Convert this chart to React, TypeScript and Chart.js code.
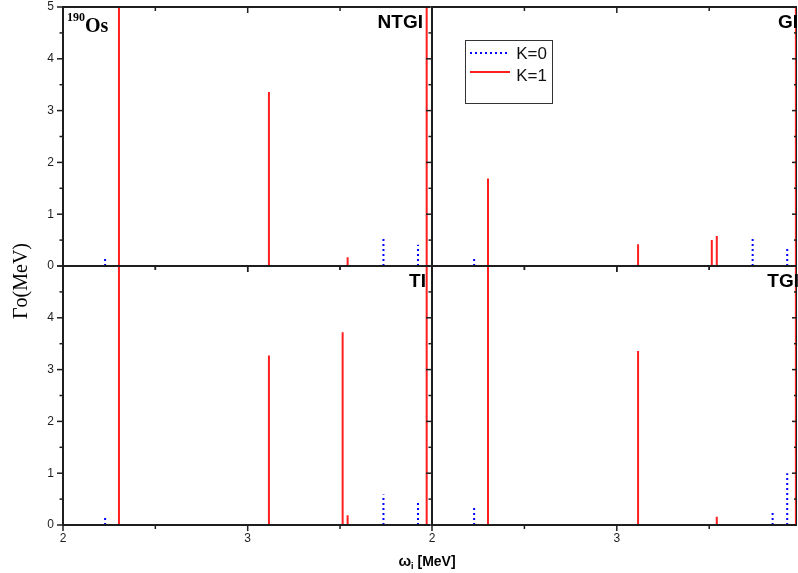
import React, { useEffect, useRef } from 'react';
import { Chart, registerables } from 'chart.js';

Chart.register(...registerables);

const W = 798;
const H = 573;

// ---- Data: excitation energies ω (MeV) and widths Γ0 (MeV) ----
// NTGI
const K0_OMEGA_NTGI = [2.228, 3.735, 3.922];
const K0_GAMMA_NTGI = [0.15, 0.55, 0.41];
const K1_OMEGA_NTGI = [2.303, 3.115, 3.541, 3.969];
const K1_GAMMA_NTGI = [8.0, 3.36, 0.17, 9.0];
// GI
const K0_OMEGA_GI = [2.228, 3.735, 3.922];
const K0_GAMMA_GI = [0.14, 0.52, 0.34];
const K1_OMEGA_GI = [2.303, 3.115, 3.514, 3.541, 3.969];
const K1_GAMMA_GI = [1.69, 0.42, 0.5, 0.58, 9.0];
// TI
const K0_OMEGA_TI = [2.228, 3.735, 3.922];
const K0_GAMMA_TI = [0.16, 0.59, 0.44];
const K1_OMEGA_TI = [2.303, 3.115, 3.514, 3.541, 3.969];
const K1_GAMMA_TI = [8.0, 3.27, 3.72, 0.19, 9.0];
// TGI
const K0_OMEGA_TGI = [2.228, 3.843, 3.922];
const K0_GAMMA_TGI = [0.34, 0.26, 1.0];
const K1_OMEGA_TGI = [2.303, 3.115, 3.541, 3.969];
const K1_GAMMA_TGI = [8.0, 3.36, 0.16, 9.0];

const SERIES_LABELS = ['K=0', 'K=1'];
const Y_MAJOR = [0, 1, 2, 3, 4, 5];
const Y_MINOR = [0.5, 1.5, 2.5, 3.5, 4.5];
const X_MAJOR = [2, 3];
const X_MINOR = [2.5, 3.5];
const Y_LABELS_TOP = ['0', '1', '2', '3', '4', '5'];
const Y_LABELS_BOTTOM = ['0', '1', '2', '3', '4'];
const X_LABELS = ['2', '3'];

const SANS = '"Liberation Sans", Arial, Helvetica, sans-serif';
const SERIF = '"Liberation Serif", "Times New Roman", serif';
const AXIS = '#1e1e1e';
const BLUE = '#0000ff';
const RED = '#ff1f1f';

type Panel = {
  name: string;
  k0x: number[]; k0y: number[]; k1x: number[]; k1y: number[];
  left: number; right: number; top: number; bottom: number; xMax: number;
  yLabels: string[]; xLabels: boolean; isLeft: boolean; labelRight: number;
  legend?: boolean; nucleus?: boolean; yTitle?: boolean; xTitle?: boolean;
};

const PANELS: Panel[] = [
  { name: 'NTGI', k0x: K0_OMEGA_NTGI, k0y: K0_GAMMA_NTGI, k1x: K1_OMEGA_NTGI, k1y: K1_GAMMA_NTGI,
    left: 63, right: 430, top: 7, bottom: 266, xMax: 3.987, yLabels: Y_LABELS_TOP, xLabels: false,
    isLeft: true, labelRight: 423, nucleus: true, yTitle: true },
  { name: 'GI', k0x: K0_OMEGA_GI, k0y: K0_GAMMA_GI, k1x: K1_OMEGA_GI, k1y: K1_GAMMA_GI,
    left: 432, right: 797, top: 7, bottom: 266, xMax: 3.975, yLabels: [], xLabels: false,
    isLeft: false, labelRight: 798, legend: true },
  { name: 'TI', k0x: K0_OMEGA_TI, k0y: K0_GAMMA_TI, k1x: K1_OMEGA_TI, k1y: K1_GAMMA_TI,
    left: 63, right: 430, top: 266, bottom: 525, xMax: 3.987, yLabels: Y_LABELS_BOTTOM, xLabels: true,
    isLeft: true, labelRight: 426, xTitle: true },
  { name: 'TGI', k0x: K0_OMEGA_TGI, k0y: K0_GAMMA_TGI, k1x: K1_OMEGA_TGI, k1y: K1_GAMMA_TGI,
    left: 432, right: 797, top: 266, bottom: 525, xMax: 3.975, yLabels: [], xLabels: true,
    isLeft: false, labelRight: 799 },
];

function spikes(xs: number[], ys: number[]) {
  const out: { x: number; y: number | null }[] = [];
  xs.forEach((x, i) => {
    out.push({ x, y: 0 }, { x, y: ys[i] }, { x, y: null });
  });
  return out;
}

function seg(ctx: CanvasRenderingContext2D, x1: number, y1: number, x2: number, y2: number) {
  ctx.beginPath();
  ctx.moveTo(x1, y1);
  ctx.lineTo(x2, y2);
  ctx.stroke();
}

function makePlugin(p: Panel) {
  return {
    id: 'panelDecor' + p.name,
    afterDraw(chart: any) {
      const ctx: CanvasRenderingContext2D = chart.ctx;
      const a = chart.chartArea;
      const xs = chart.scales.x;
      const ys = chart.scales.y;
      ctx.save();
      ctx.strokeStyle = AXIS;
      ctx.fillStyle = AXIS;
      ctx.lineCap = 'butt';
      // frame
      ctx.lineWidth = 2;
      seg(ctx, a.left - 1, a.top, a.right, a.top);
      seg(ctx, a.left - 1, a.bottom, a.right, a.bottom);
      seg(ctx, a.left, a.top - 1, a.left, a.bottom + 1);
      if (!p.isLeft) {
        ctx.lineWidth = 1;
        seg(ctx, a.right - 0.5, a.top, a.right - 0.5, a.bottom);
      }
      // y ticks
      ctx.lineWidth = 1.5;
      Y_MAJOR.forEach((v) => {
        const y = ys.getPixelForValue(v);
        seg(ctx, a.left - 6, y, a.left, y);
        if (!p.isLeft) seg(ctx, a.right, y, a.right - 5, y);
      });
      Y_MINOR.forEach((v) => {
        const y = ys.getPixelForValue(v);
        seg(ctx, a.left - 3.5, y, a.left, y);
        if (!p.isLeft) seg(ctx, a.right, y, a.right - 3, y);
      });
      // x ticks
      X_MAJOR.forEach((v) => {
        const x = xs.getPixelForValue(v);
        seg(ctx, x, a.bottom, x, a.bottom + 6);
        seg(ctx, x, a.top, x, a.top + 6);
      });
      X_MINOR.forEach((v) => {
        const x = xs.getPixelForValue(v);
        seg(ctx, x, a.bottom, x, a.bottom + 4);
        seg(ctx, x, a.top, x, a.top + 4);
      });
      // tick labels
      ctx.font = '12px ' + SANS;
      ctx.textAlign = 'right';
      ctx.textBaseline = 'middle';
      p.yLabels.forEach((t, i) => {
        ctx.fillText(t, a.left - 9, ys.getPixelForValue(Y_MAJOR[i]));
      });
      if (p.xLabels) {
        ctx.textAlign = 'center';
        X_LABELS.forEach((t, i) => {
          ctx.fillText(t, xs.getPixelForValue(X_MAJOR[i]), a.bottom + 14);
        });
      }
      // panel label
      ctx.font = 'bold 19px ' + SANS;
      ctx.textAlign = 'right';
      ctx.textBaseline = 'alphabetic';
      ctx.fillStyle = '#000';
      ctx.fillText(p.name, p.labelRight, a.top + 21);

      if (p.nucleus) {
        ctx.textAlign = 'left';
        ctx.font = 'bold 12px ' + SERIF;
        ctx.fillText('190', a.left + 4, a.top + 14);
        const w = ctx.measureText('190').width;
        ctx.font = 'bold 20px ' + SERIF;
        ctx.fillText('Os', a.left + 4 + w, a.top + 25);
      }
      if (p.yTitle) {
        ctx.save();
        ctx.translate(22, 281);
        ctx.rotate(-Math.PI / 2);
        ctx.font = '20px ' + SERIF;
        ctx.textAlign = 'center';
        ctx.textBaseline = 'middle';
        ctx.fillText('\u0393o(MeV)', 0, 0);
        ctx.restore();
      }
      if (p.xTitle) {
        ctx.textBaseline = 'alphabetic';
        ctx.textAlign = 'left';
        const f1 = 'bold 15px ' + SANS;
        const f2 = 'bold 9px ' + SANS;
        const f3 = 'bold 14px ' + SANS;
        ctx.font = f1; const w1 = ctx.measureText('\u03c9').width;
        ctx.font = f2; const w2 = ctx.measureText('i').width;
        ctx.font = f3; const w3 = ctx.measureText(' [MeV]').width;
        let x = 427 - (w1 + w2 + w3) / 2;
        const base = 566;
        ctx.font = f1; ctx.fillText('\u03c9', x, base); x += w1;
        ctx.font = f2; ctx.fillText('i', x, base + 3); x += w2;
        ctx.font = f3; ctx.fillText(' [MeV]', x, base);
      }
      if (p.legend) {
        const ds = chart.data.datasets;
        const bx = 465, by = 40, bw = 87, bh = 63;
        ctx.lineWidth = 1;
        ctx.strokeStyle = '#333';
        ctx.strokeRect(bx + 0.5, by + 0.5, bw, bh);
        const rows = [53, 72];
        const textRows = [54, 76];
        ds.forEach((d: any, i: number) => {
          ctx.save();
          ctx.strokeStyle = d.borderColor;
          ctx.lineWidth = d.borderWidth;
          ctx.setLineDash(d.borderDash || []);
          seg(ctx, bx + 5, rows[i], bx + 45, rows[i]);
          ctx.restore();
          ctx.font = '17px ' + SANS;
          ctx.fillStyle = '#111';
          ctx.textAlign = 'right';
          ctx.textBaseline = 'middle';
          ctx.fillText(d.label, bx + 82, textRows[i]);
        });
      }
      ctx.restore();
    },
  };
}

export default function App() {
  const refs = useRef<(HTMLCanvasElement | null)[]>([]);

  useEffect(() => {
    const charts = PANELS.map((p, i) => {
      const canvas = refs.current[i] as HTMLCanvasElement;
      return new Chart(canvas, {
        type: 'line',
        data: {
          datasets: [
            {
              label: SERIES_LABELS[0],
              data: spikes(p.k0x, p.k0y) as any,
              borderColor: BLUE,
              borderWidth: 2,
              borderDash: [2, 3],
              pointRadius: 0,
              spanGaps: false,
              tension: 0,
              clip: 0,
            },
            {
              label: SERIES_LABELS[1],
              data: spikes(p.k1x, p.k1y) as any,
              borderColor: RED,
              borderWidth: 2,
              pointRadius: 0,
              spanGaps: false,
              tension: 0,
              clip: 0,
            },
          ],
        },
        options: {
          responsive: false,
          maintainAspectRatio: false,
          animation: false,
          devicePixelRatio: 1,
          events: [],
          layout: {
            padding: { left: p.left, right: W - p.right, top: p.top, bottom: H - p.bottom },
          },
          scales: {
            x: { type: 'linear', min: 2, max: p.xMax, display: false },
            y: { type: 'linear', min: 0, max: 5, display: false },
          },
          plugins: {
            legend: { display: false },
            tooltip: { enabled: false },
          },
        },
        plugins: [makePlugin(p)],
      } as any);
    });
    return () => charts.forEach((c) => c.destroy());
  }, []);

  return (
    <div style={{ position: 'absolute', left: 0, top: 0, width: W, height: H, background: '#fff', overflow: 'hidden' }}>
      {PANELS.map((p, i) => (
        <canvas
          key={p.name}
          ref={(el) => { refs.current[i] = el; }}
          width={W}
          height={H}
          style={{ position: 'absolute', left: 0, top: 0, width: W, height: H }}
        />
      ))}
    </div>
  );
}
